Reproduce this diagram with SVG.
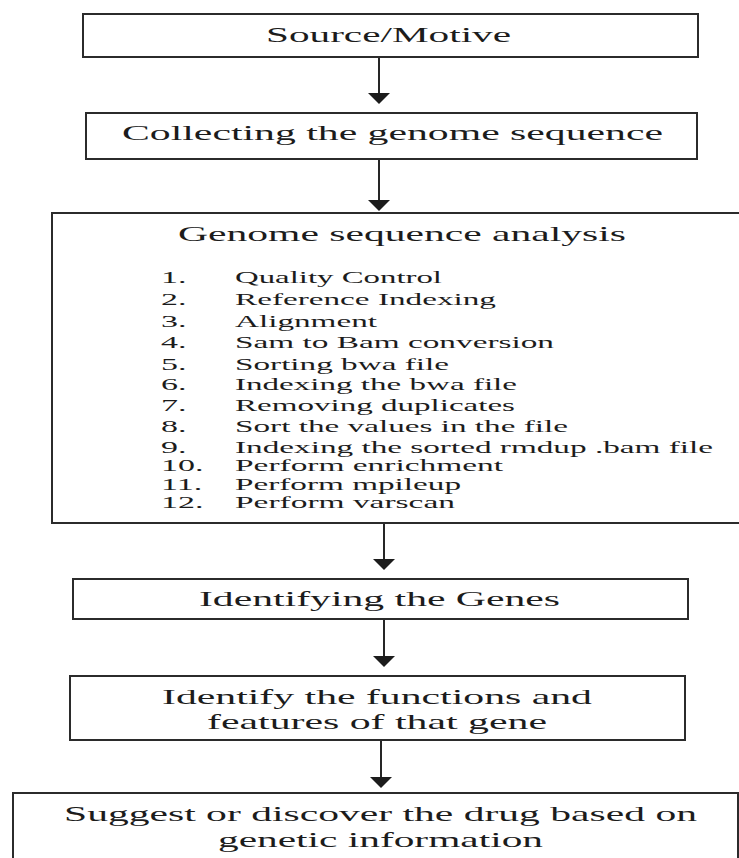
<svg xmlns="http://www.w3.org/2000/svg" width="739" height="858" viewBox="0 0 739 858">
<style>
.box{fill:#fff;stroke:#2b2b2b;stroke-width:2}
.t{font-family:"Liberation Serif","Times New Roman",serif;fill:#1c1c1c}
.big{font-size:21px}
.sm{font-size:17px}
.conn line{stroke:#262626;stroke-width:2}
</style>
<defs>
<marker id="ah" viewBox="0 0 11 22" refX="0" refY="11" markerWidth="11" markerHeight="22" markerUnits="userSpaceOnUse" orient="auto">
<path d="M0,0 L11,11 L0,22 z" fill="#1c1c1c"/>
</marker>
</defs>
<rect width="739" height="858" fill="#fff"/>
<g id="n1">
<rect class="box" x="83" y="14" width="615" height="43"/>
<text class="t big" transform="translate(266,42) scale(2,1)" textLength="122.5" lengthAdjust="spacingAndGlyphs">Source/Motive</text>
</g>
<g id="n2">
<rect class="box" x="86" y="113" width="611" height="46"/>
<text class="t big" transform="translate(122,140) scale(2,1)" textLength="270.5" lengthAdjust="spacingAndGlyphs">Collecting the genome sequence</text>
</g>
<g id="n3">
<rect class="box" x="52" y="213" width="700" height="310"/>
<text class="t big" transform="translate(178,241) scale(2,1)" textLength="224" lengthAdjust="spacingAndGlyphs">Genome sequence analysis</text>
<g class="t sm">
<text transform="translate(161,283) scale(2,1)">1.</text>
<text transform="translate(235,283) scale(2,1)" textLength="103.5" lengthAdjust="spacingAndGlyphs">Quality Control</text>
<text transform="translate(161,305) scale(2,1)">2.</text>
<text transform="translate(235,305) scale(2,1)" textLength="130.5" lengthAdjust="spacingAndGlyphs">Reference Indexing</text>
<text transform="translate(161,327) scale(2,1)">3.</text>
<text transform="translate(235,327) scale(2,1)" textLength="71" lengthAdjust="spacingAndGlyphs">Alignment</text>
<text transform="translate(161,348) scale(2,1)">4.</text>
<text transform="translate(235,348) scale(2,1)" textLength="159.5" lengthAdjust="spacingAndGlyphs">Sam to Bam conversion</text>
<text transform="translate(161,370) scale(2,1)">5.</text>
<text transform="translate(235,370) scale(2,1)" textLength="107" lengthAdjust="spacingAndGlyphs">Sorting bwa file</text>
<text transform="translate(161,390) scale(2,1)">6.</text>
<text transform="translate(235,390) scale(2,1)" textLength="141" lengthAdjust="spacingAndGlyphs">Indexing the bwa file</text>
<text transform="translate(161,411) scale(2,1)">7.</text>
<text transform="translate(235,411) scale(2,1)" textLength="140" lengthAdjust="spacingAndGlyphs">Removing duplicates</text>
<text transform="translate(161,432) scale(2,1)">8.</text>
<text transform="translate(235,432) scale(2,1)" textLength="166.5" lengthAdjust="spacingAndGlyphs">Sort the values in the file</text>
<text transform="translate(161,453) scale(2,1)">9.</text>
<text transform="translate(235,453) scale(2,1)" textLength="239" lengthAdjust="spacingAndGlyphs">Indexing the sorted rmdup .bam file</text>
<text transform="translate(161,471) scale(2,1)">10.</text>
<text transform="translate(235,471) scale(2,1)" textLength="134" lengthAdjust="spacingAndGlyphs">Perform enrichment</text>
<text transform="translate(161,490) scale(2,1)">11.</text>
<text transform="translate(235,490) scale(2,1)" textLength="113" lengthAdjust="spacingAndGlyphs">Perform mpileup</text>
<text transform="translate(161,508) scale(2,1)">12.</text>
<text transform="translate(235,508) scale(2,1)" textLength="110" lengthAdjust="spacingAndGlyphs">Perform varscan</text>
</g>
</g>
<g id="n4">
<rect class="box" x="73" y="579" width="615" height="40"/>
<text class="t big" transform="translate(199,606) scale(2,1)" textLength="180.5" lengthAdjust="spacingAndGlyphs">Identifying the Genes</text>
</g>
<g id="n5">
<rect class="box" x="70" y="676" width="615" height="64"/>
<text class="t big" transform="translate(162,704) scale(2,1)" textLength="215" lengthAdjust="spacingAndGlyphs">Identify the functions and</text>
<text class="t big" transform="translate(207,729) scale(2,1)" textLength="170" lengthAdjust="spacingAndGlyphs">features of that gene</text>
</g>
<g id="n6">
<rect class="box" x="13" y="793" width="725" height="80"/>
<text class="t big" transform="translate(64,821) scale(2,1)" textLength="316.5" lengthAdjust="spacingAndGlyphs">Suggest or discover the drug based on</text>
<text class="t big" transform="translate(218,847) scale(2,1)" textLength="162.5" lengthAdjust="spacingAndGlyphs">genetic information</text>
</g>
<g id="connectors" class="conn">
<line x1="379" y1="58" x2="379" y2="93" marker-end="url(#ah)"/>
<line x1="379" y1="160" x2="379" y2="200" marker-end="url(#ah)"/>
<line x1="384" y1="524" x2="384" y2="559" marker-end="url(#ah)"/>
<line x1="384" y1="620" x2="384" y2="656" marker-end="url(#ah)"/>
<line x1="381" y1="741" x2="381" y2="777" marker-end="url(#ah)"/>
</g>
</svg>
